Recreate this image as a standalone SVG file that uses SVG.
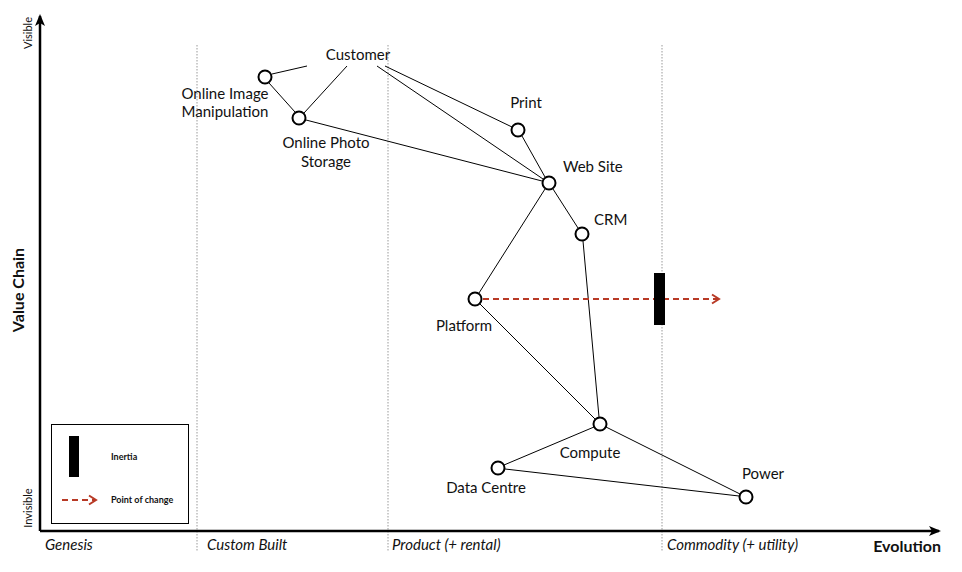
<svg xmlns="http://www.w3.org/2000/svg" width="962" height="572" viewBox="0 0 962 572">
<defs>
<marker id="ax" markerWidth="12" markerHeight="10" refX="10" refY="5" orient="auto" markerUnits="userSpaceOnUse"><path d="M0,0 L12,5 L0,10 L3,5 Z" fill="#000"/></marker>
<marker id="chg" markerWidth="12" markerHeight="12" refX="9" refY="6" orient="auto" markerUnits="userSpaceOnUse"><path d="M2,1.5 L9,6 L2,10.5" fill="none" stroke="#b83a26" stroke-width="2"/></marker>
</defs>
<style>
text{font-family:"Gill Sans","Lato","Liberation Sans",sans-serif;fill:#111}
.lbl{font-size:15px}
.stage{font-size:15px;font-style:italic}
.node{fill:#fff;stroke:#000;stroke-width:2}
.edge{stroke:#000;stroke-width:1;fill:none}
.grid{stroke:#999;stroke-width:1;stroke-dasharray:1.5,1.5}
.chg{stroke:#b83a26;stroke-width:2.2;stroke-dasharray:6,4;fill:none}
</style>
<rect width="962" height="572" fill="#fff"/>
<g id="grid">
<line class="grid" x1="197" y1="45" x2="197" y2="552"/>
<line class="grid" x1="388" y1="45" x2="388" y2="552"/>
<line class="grid" x1="662" y1="45" x2="662" y2="552"/>
</g>
<g id="axes">
<line x1="40" y1="531" x2="40" y2="16" stroke="#000" stroke-width="2.5" marker-end="url(#ax)"/>
<line x1="40" y1="531" x2="939" y2="531" stroke="#000" stroke-width="2.5" marker-end="url(#ax)"/>
<text x="32" y="33" font-size="11" text-anchor="middle" transform="rotate(-90 32 33)">Visible</text>
<text x="32" y="508" font-size="11" text-anchor="middle" transform="rotate(-90 32 508)">Invisible</text>
<text x="24" y="290" font-size="16" font-weight="bold" text-anchor="middle" transform="rotate(-90 24 290)">Value Chain</text>
<text x="941" y="552" font-size="16" font-weight="bold" text-anchor="end">Evolution</text>
<text class="stage" x="45" y="550">Genesis</text>
<text class="stage" x="207" y="550">Custom Built</text>
<text class="stage" x="392" y="550">Product (+ rental)</text>
<text class="stage" x="667" y="550">Commodity (+ utility)</text>
</g>
<g id="connectors">
<line class="edge" x1="307" y1="66" x2="272" y2="74"/>
<line class="edge" x1="347" y1="66" x2="304" y2="113"/>
<line class="edge" x1="269" y1="83" x2="295" y2="112"/>
<line class="edge" x1="385" y1="66" x2="512" y2="127"/>
<line class="edge" x1="377" y1="66" x2="543" y2="179"/>
<line class="edge" x1="306" y1="120" x2="542" y2="181"/>
<line class="edge" x1="522" y1="136" x2="545" y2="177"/>
<line class="edge" x1="553" y1="189" x2="578" y2="228"/>
<line class="edge" x1="545" y1="189" x2="479" y2="293"/>
<line class="edge" x1="583" y1="241" x2="599" y2="417"/>
<line class="edge" x1="480" y1="304" x2="595" y2="419"/>
<line class="edge" x1="594" y1="427" x2="504" y2="465"/>
<line class="edge" x1="606" y1="427" x2="740" y2="494"/>
<line class="edge" x1="505" y1="469" x2="739" y2="496"/>
<line class="chg" x1="483" y1="299" x2="719" y2="299" marker-end="url(#chg)"/>
</g>
<g id="inertia"><rect x="654" y="273" width="11" height="52" fill="#000"/></g>
<g id="customer"><text class="lbl" x="358" y="60" text-anchor="middle">Customer</text></g>
<g id="online-image-manipulation"><circle class="node" cx="265" cy="77" r="6.5"/><text class="lbl" x="225" y="99" text-anchor="middle">Online Image</text><text class="lbl" x="225" y="117" text-anchor="middle">Manipulation</text></g>
<g id="online-photo-storage"><circle class="node" cx="299" cy="118" r="6.5"/><text class="lbl" x="326" y="148" text-anchor="middle">Online Photo</text><text class="lbl" x="326" y="167" text-anchor="middle">Storage</text></g>
<g id="print"><circle class="node" cx="518" cy="130" r="6.5"/><text class="lbl" x="526" y="108" text-anchor="middle">Print</text></g>
<g id="web-site"><circle class="node" cx="549" cy="183" r="6.5"/><text class="lbl" x="563" y="172">Web Site</text></g>
<g id="crm"><circle class="node" cx="582" cy="234" r="6.5"/><text class="lbl" x="594" y="225">CRM</text></g>
<g id="platform"><circle class="node" cx="475" cy="299" r="6.5"/><text class="lbl" x="464" y="331" text-anchor="middle">Platform</text></g>
<g id="compute"><circle class="node" cx="600" cy="424" r="6.5"/><text class="lbl" x="590" y="458" text-anchor="middle">Compute</text></g>
<g id="data-centre"><circle class="node" cx="498" cy="468" r="6.5"/><text class="lbl" x="486" y="493" text-anchor="middle">Data Centre</text></g>
<g id="power"><circle class="node" cx="746" cy="497" r="6.5"/><text class="lbl" x="763" y="479" text-anchor="middle">Power</text></g>
<g id="legend">
<rect x="51.5" y="424.5" width="137" height="99" fill="#fff" stroke="#000" stroke-width="1"/>
<rect x="69" y="436" width="10" height="41" fill="#000"/>
<text x="111" y="460" font-size="9" font-weight="bold">Inertia</text>
<line class="chg" x1="62" y1="500" x2="96" y2="500" stroke-width="1.8" stroke-dasharray="4,3" marker-end="url(#chg)"/>
<text x="111" y="503" font-size="9" font-weight="bold">Point of change</text>
</g>
</svg>
